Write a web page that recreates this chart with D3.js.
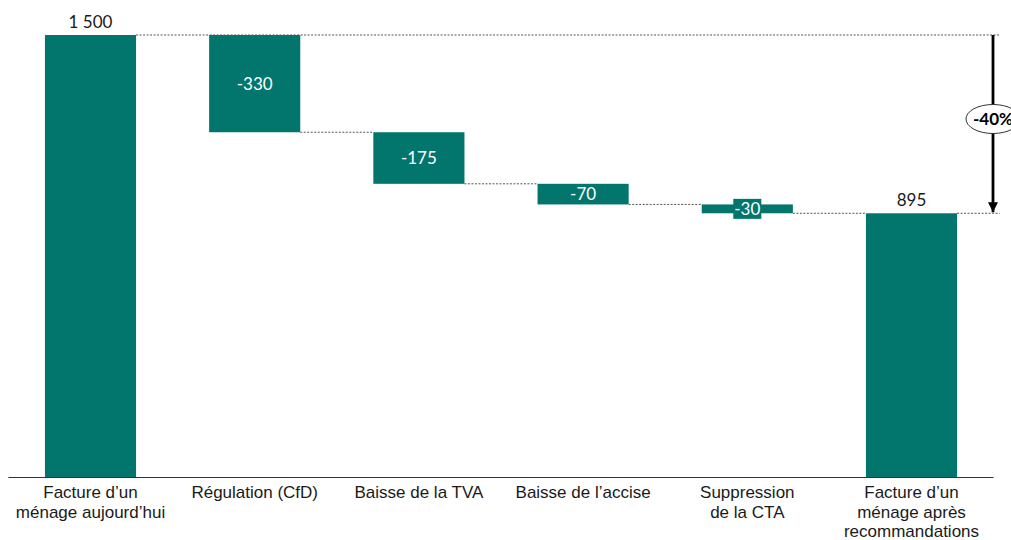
<!DOCTYPE html>
<html><head><meta charset="utf-8">
<script src="https://cdn.jsdelivr.net/npm/d3@7"></script>
<style>
html,body{margin:0;padding:0;background:#fff;}
svg{display:block;font-family:Lato, "Open Sans", sans-serif;}
</style></head>
<body><svg id="c" width="1011" height="540"></svg>
<script>
const categories = [
  ["Facture d’un","ménage aujourd’hui"],
  ["Régulation (CfD)"],
  ["Baisse de la TVA"],
  ["Baisse de l’accise"],
  ["Suppression","de la CTA"],
  ["Facture d’un","ménage après","recommandations"]
];
const values = [1500, -330, -175, -70, -30, 895];
const isTotal = [true, false, false, false, false, true];
const valueLabels = ["1 500", "-330", "-175", "-70", "-30", "895"];
const changeLabel = "-40%";

const svg = d3.select("#c");
const color = "#02766d";
const baseY = 477;
const fs = 17;

const x = d3.scaleBand().domain(d3.range(categories.length))
  .range([8.4, 993.6]).paddingInner(0.445).paddingOuter(0.2225);
const y = d3.scaleLinear().domain([0, 1500]).range([baseY, 35]);

let run = 0;
const bars = values.map((v, i) => {
  let y0, y1;
  if (isTotal[i]) { y0 = 0; y1 = v; run = v; }
  else { y0 = run; y1 = run + v; run = y1; }
  return {i, v, lo: Math.min(y0, y1), hi: Math.max(y0, y1), end: y1};
});

const g = svg.append("g");
bars.forEach((b, i) => {
  const x1 = (i === 0 || i === bars.length - 1) ? x.range()[1] + 6 : x(i + 1);
  g.append("line").attr("x1", x(i) + x.bandwidth()).attr("x2", x1)
    .attr("y1", y(b.end)).attr("y2", y(b.end))
    .attr("stroke", "#555").attr("stroke-width", 1).attr("stroke-dasharray", "2,1.5");
});

svg.append("g").selectAll("rect").data(bars).join("rect")
  .attr("x", d => x(d.i)).attr("width", x.bandwidth())
  .attr("y", d => y(d.hi)).attr("height", d => y(d.lo) - y(d.hi))
  .attr("fill", color);

bars.forEach((b, i) => {
  const cx = x(i) + x.bandwidth() / 2;
  if (isTotal[i]) {
    svg.append("text").attr("x", cx).attr("y", y(b.hi) - 7)
      .attr("text-anchor", "middle").attr("font-size", fs).attr("fill", "#1a1a1a")
      .text(valueLabels[i]);
  } else {
    const cy = (y(b.hi) + y(b.lo)) / 2;
    const h = y(b.lo) - y(b.hi);
    if (h < 20) {
      svg.append("rect").attr("x", cx - 14).attr("y", cy - 10).attr("width", 28).attr("height", 20)
        .attr("fill", color);
    }
    svg.append("text").attr("x", cx).attr("y", cy).attr("dy", "0.35em")
      .attr("text-anchor", "middle").attr("font-size", fs).attr("fill", "#fff")
      .text(valueLabels[i]);
  }
});

const axis = svg.append("g").attr("transform", `translate(0,${baseY})`)
  .call(d3.axisBottom(x).tickSize(0).tickFormat(""));
axis.select(".domain").attr("stroke", "#333").attr("stroke-width", 1)
  .attr("d", `M${x.range()[0]},0.5H${x.range()[1]}`);
axis.selectAll(".tick").each(function(d) {
  const t = d3.select(this).append("text").attr("text-anchor", "middle")
    .attr("font-size", fs).attr("fill", "#1a1a1a").attr("y", 21);
  categories[d].forEach((line, k) => {
    t.append("tspan").attr("x", 0).attr("dy", k === 0 ? 0 : 19.5).text(line);
  });
});

const ax = 993;
const defs = svg.append("defs");
defs.append("marker").attr("id", "ah").attr("viewBox", "0 0 10 10")
  .attr("refX", 10).attr("refY", 5).attr("markerWidth", 3.6).attr("markerHeight", 3.6)
  .attr("markerUnits", "strokeWidth").attr("orient", "auto")
  .append("path").attr("d", "M0,0L10,5L0,10z").attr("fill", "#000");
svg.append("line").attr("x1", ax).attr("x2", ax).attr("y1", y(1500)).attr("y2", y(895) - 1)
  .attr("stroke", "#000").attr("stroke-width", 2.8).attr("marker-end", "url(#ah)");
const ey = 119;
svg.append("ellipse").attr("cx", ax).attr("cy", ey).attr("rx", 27).attr("ry", 14.5)
  .attr("fill", "#fff").attr("stroke", "#333").attr("stroke-width", 1);
svg.append("text").attr("x", ax).attr("y", ey).attr("dy", "0.35em")
  .attr("text-anchor", "middle").attr("font-size", fs).attr("font-weight", "bold")
  .attr("fill", "#000").text(changeLabel);
</script></body></html>
